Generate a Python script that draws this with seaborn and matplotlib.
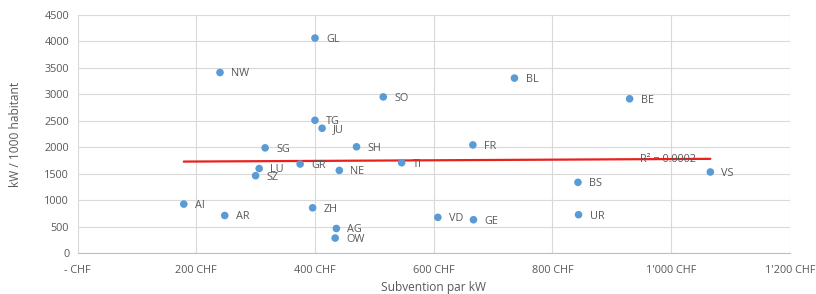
import numpy as np
import pandas as pd
import matplotlib
matplotlib.use('Agg')
import matplotlib.pyplot as plt
from matplotlib.ticker import FuncFormatter
import seaborn as sns

# donnees
cantons = ['GL', 'NW', 'SO', 'TG', 'JU', 'SH', 'SG', 'LU', 'SZ', 'GR', 'NE', 'AI', 'AR',
           'ZH', 'AG', 'OW', 'TI', 'FR', 'BL', 'BE', 'VS', 'BS', 'UR', 'VD', 'GE']
subvention = [400, 240, 515, 400, 412, 470, 316, 306, 300, 375, 441, 179, 248,
              396, 436, 434, 546, 666, 736, 930, 1066, 843, 844, 607, 667]
kw_hab = [4060, 3410, 2950, 2510, 2360, 2010, 1990, 1600, 1465, 1685, 1565, 930, 715,
          860, 470, 290, 1710, 2045, 3305, 2915, 1535, 1340, 730, 680, 635]

df = pd.DataFrame({'canton': cantons, 'subvention': subvention, 'kw': kw_hab})

sns.set_style('white')
plt.rcParams['font.family'] = ['Open Sans', 'DejaVu Sans']
gris = '#595959'

fig = plt.figure(figsize=(8.16, 2.94), dpi=100)
ax = fig.add_axes([0.095, 0.138, 0.873, 0.812])

sns.regplot(data=df, x='subvention', y='kw', scatter=False, ci=None, truncate=True,
            line_kws={'color': '#e8211d', 'lw': 1.6, 'zorder': 2}, ax=ax)
sns.scatterplot(data=df, x='subvention', y='kw', color='#5b9bd5', s=30, edgecolor='none',
                zorder=3, ax=ax)

for _, r in df.iterrows():
    ax.annotate(r['canton'], (r['subvention'], r['kw']), xytext=(8, -1),
                textcoords='offset points', va='center', ha='left', fontsize=7.8, color=gris)

ax.text(948, 1770, 'R² = 0.0002', fontsize=7.8, color=gris, va='center', ha='left')

ax.set_xlim(0, 1200)
ax.set_ylim(0, 4500)
ax.set_xticks(range(0, 1201, 200))
ax.set_yticks(range(0, 4501, 500))

def chf(v, pos):
    if v == 0:
        return '- CHF'
    s = f'{int(v):,}'.replace(',', "'")
    return s + ' CHF'

ax.xaxis.set_major_formatter(FuncFormatter(chf))
ax.grid(True, color='#d9d9d9', lw=0.8)
ax.set_axisbelow(True)
for sp in ax.spines.values():
    sp.set_visible(False)
ax.spines['bottom'].set_visible(True)
ax.spines['bottom'].set_color('#bfbfbf')
ax.tick_params(axis='both', length=0, labelsize=7.8, labelcolor=gris)
ax.tick_params(axis='x', pad=8)
ax.tick_params(axis='y', pad=6)
ax.set_xlabel('Subvention par kW', fontsize=8.6, color=gris, labelpad=4)
ax.set_ylabel('kW / 1000 habitant', fontsize=8.6, color=gris, labelpad=16)

fig.savefig('out.png', dpi=100)
